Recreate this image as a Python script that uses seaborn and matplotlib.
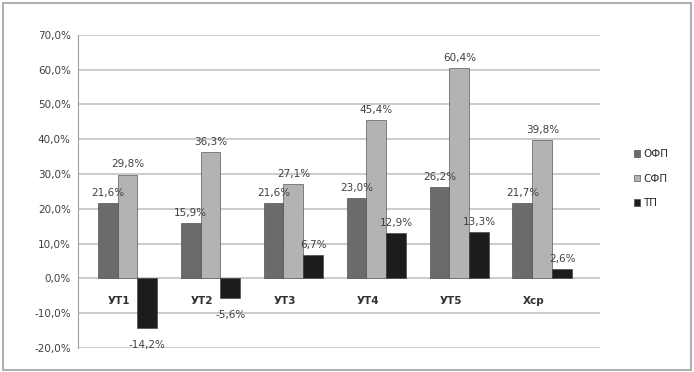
import matplotlib
matplotlib.use("Agg")
import matplotlib.pyplot as plt
import seaborn as sns
import pandas as pd
from matplotlib.patches import Rectangle

# values (percent)
groups = ['УТ1', 'УТ2', 'УТ3', 'УТ4', 'УТ5', 'Хср']
series = ['ОФП', 'СФП', 'ТП']
ofp = [21.6, 15.9, 21.6, 23.0, 26.2, 21.7]
sfp = [29.8, 36.3, 27.1, 45.4, 60.4, 39.8]
tp = [-14.2, -5.6, 6.7, 12.9, 13.3, 2.6]
yticks = [-20, -10, 0, 10, 20, 30, 40, 50, 60, 70]

colors = ['#6b6b6b', '#b3b3b3', '#1c1c1c']

df = pd.DataFrame({
    'group': groups * 3,
    'series': [series[0]] * 6 + [series[1]] * 6 + [series[2]] * 6,
    'value': ofp + sfp + tp,
})

sns.set_style("white")
plt.rcParams['font.family'] = ['DejaVu Sans']

fig = plt.figure(figsize=(6.94, 3.72), dpi=100)
ax = fig.add_axes([0.112, 0.065, 0.752, 0.841])

# light horizontal grid first, bars on top
for t in yticks:
    ax.axhline(t, color='#c8c8c8', lw=1.3, zorder=0)

sns.barplot(data=df, x='group', y='value', hue='series', order=groups,
            hue_order=series, palette=colors, width=0.72, saturation=1,
            edgecolor='#3a3a3a', linewidth=0.4, ax=ax, zorder=2)

ax.set_ylim(-20, 70)
ax.set_xlim(-0.6, 5.69)
ax.set_yticks(yticks)
ax.set_yticklabels([f"{t:.1f}%".replace('.', ',') for t in yticks],
                   fontsize=7.5, color='#404040')
ax.set_xticks([])
ax.set_xlabel('')
ax.set_ylabel('')
for s in ['top', 'right', 'bottom']:
    ax.spines[s].set_visible(False)
ax.spines['left'].set_color('#a0a0a0')
ax.tick_params(axis='y', length=3, color='#a0a0a0', pad=2)

# value labels over / under each bar
for container in ax.containers:
    for bar in container:
        h = bar.get_height()
        x = bar.get_x() + bar.get_width() / 2
        txt = f"{h:.1f}%".replace('.', ',')
        if h >= 0:
            ax.text(x, h + 1.5, txt, ha='center', va='bottom',
                    fontsize=7.5, color='#404040')
        else:
            ax.text(x, h - 3.5, txt, ha='center', va='top',
                    fontsize=7.5, color='#404040')

# category labels sit below the zero line, a bit left of the group centre
for i, g in enumerate(groups):
    ax.text(i - 0.1, -6.5, g, ha='center', va='center', fontsize=7.5,
            fontweight='bold', color='#303030')

ax.legend(loc='center left', bbox_to_anchor=(0.90, 0.52),
          bbox_transform=fig.transFigure, frameon=False, fontsize=7.5,
          handlelength=0.6, handleheight=0.6, handletextpad=0.3,
          labelspacing=1.4)

# outer frame of the picture
fig.patches.append(Rectangle((0.004, 0.006), 0.992, 0.985,
                             transform=fig.transFigure, fill=False,
                             edgecolor='#b0b0b0', lw=1.5))

fig.savefig('out.png', dpi=100)
